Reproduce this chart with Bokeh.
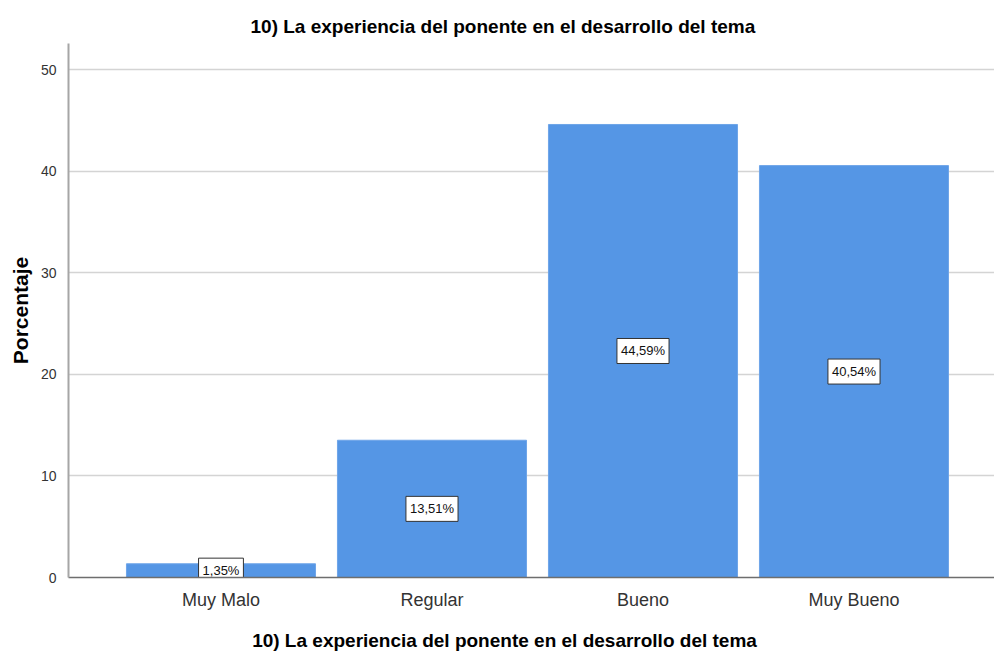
from bokeh.plotting import figure
from bokeh.models import ColumnDataSource, FixedTicker, Range1d, Title, Label
from bokeh.layouts import column
from bokeh.core.properties import value
from bokeh.embed import file_html
from bokeh.resources import INLINE

categories = ["Muy Malo", "Regular", "Bueno", "Muy Bueno"]
percentages = [1.35, 13.51, 44.59, 40.54]
label_texts = ["1,35%", "13,51%", "44,59%", "40,54%"]
y_ticks = [0, 10, 20, 30, 40, 50]
title_text = "10) La experiencia del ponente en el desarrollo del tema"
y_label = "Porcentaje"

xs = list(range(1, len(categories) + 1))
src = ColumnDataSource(dict(
    x=xs,
    top=percentages,
    mid=[v / 2 for v in percentages],
    label=label_texts,
))

FONT = "Liberation Sans"

p = figure(width=994, height=613, output_backend="svg", toolbar_location=None,
           x_range=Range1d(0.2773, 4.6659), y_range=Range1d(0, 52.56),
           min_border_left=68, min_border_right=0, min_border_top=43, min_border_bottom=36)
p.outline_line_color = None
p.background_fill_color = "white"

p.vbar(x="x", top="top", bottom=0, width=0.896, source=src,
       fill_color="#5596e5", line_color="#6ea5e8", line_width=1)

p.text(x="x", y="mid", text="label", source=src,
       text_align="center", text_baseline="middle",
       text_font=value(FONT), text_font_size="13px", text_color="#111111",
       background_fill_color="white", border_line_color="#333333",
       border_line_width=1, padding=(4, 5))

# axes
p.xaxis.ticker = FixedTicker(ticks=xs)
p.xaxis.major_label_overrides = {x: c for x, c in zip(xs, categories)}
p.xaxis.major_label_text_font = FONT
p.xaxis.major_label_text_font_size = "18px"
p.xaxis.major_label_text_color = "#333333"
p.xaxis.major_label_standoff = 6
p.xaxis.major_tick_line_color = None
p.xaxis.minor_tick_line_color = None
p.xaxis.axis_line_color = "#6e6e6e"
p.xaxis.axis_line_width = 1.5

p.yaxis.ticker = FixedTicker(ticks=y_ticks)
p.yaxis.major_label_text_font = FONT
p.yaxis.major_label_text_font_size = "14px"
p.yaxis.major_label_text_color = "#333333"
p.yaxis.major_label_standoff = 6
p.yaxis.major_tick_line_color = None
p.yaxis.minor_tick_line_color = None
p.yaxis.axis_line_color = "#a6a6a6"
p.yaxis.axis_line_width = 2
p.yaxis.axis_label = y_label
p.yaxis.axis_label_text_font = FONT
p.yaxis.axis_label_text_font_style = "bold"
p.yaxis.axis_label_text_font_size = "21px"
p.yaxis.axis_label_text_color = "#000000"
p.yaxis.axis_label_standoff = 6

p.xgrid.grid_line_color = None
p.ygrid.grid_line_color = "#d4d4d4"
p.ygrid.grid_line_width = 1.5

top_title = Title(text=title_text, align="left", offset=182,
                  text_font=FONT, text_font_size="19px", text_font_style="bold",
                  text_color="#000000", standoff=14)
p.add_layout(top_title, "above")

# strip below the chart holding the x-axis title (its frame aligns with the chart's frame)
p2 = figure(width=994, height=40, output_backend="svg", toolbar_location=None,
            x_range=Range1d(0, 1), y_range=Range1d(0, 1),
            x_axis_type=None, y_axis_type=None,
            min_border_left=0, min_border_right=0, min_border_top=0, min_border_bottom=0)
p2.outline_line_color = None
p2.xgrid.visible = False
p2.ygrid.visible = False
bottom_title = Label(x=436, y=13, x_units="screen", y_units="screen",
                     text=title_text, text_align="center", text_baseline="middle",
                     text_font=FONT, text_font_size="19px", text_font_style="bold",
                     text_color="#000000")
p2.add_layout(bottom_title)

layout = column(p, p2, spacing=0)
open("out.html", "w").write(file_html(layout, INLINE))
